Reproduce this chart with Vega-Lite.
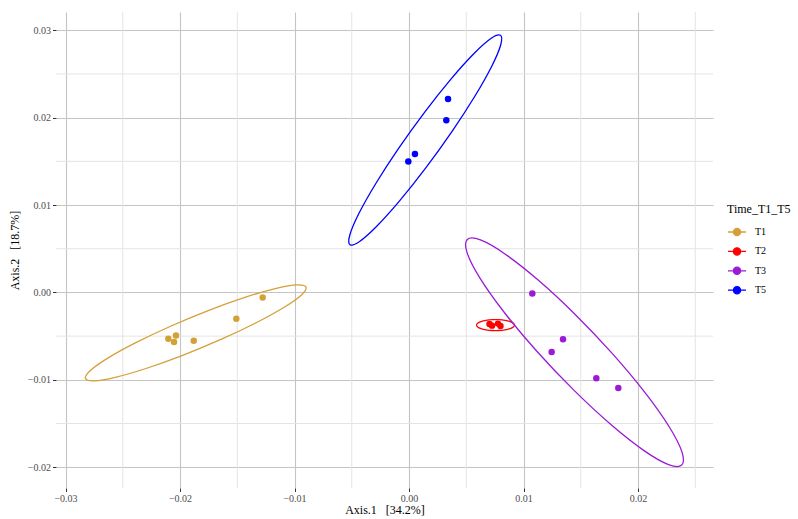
{
  "$schema": "https://vega.github.io/schema/vega-lite/v6.json",
  "width": 657,
  "height": 476,
  "autosize": "none",
  "padding": {"left": 56, "top": 12, "right": 85, "bottom": 31},
  "background": "white",
  "config": {
    "view": {"stroke": null},
    "font": "Liberation Serif",
    "axis": {
      "labelFont": "Liberation Serif",
      "titleFont": "Liberation Serif",
      "labelFontSize": 10,
      "labelColor": "#4d4d4d",
      "titleFontSize": 12,
      "titleFontWeight": "normal",
      "titleColor": "#000000",
      "domain": false,
      "tickColor": "#333333",
      "tickSize": 3.5,
      "tickWidth": 1,
      "gridColor": "#c4c4c4",
      "gridWidth": 1.1,
      "labelPadding": 2
    },
    "legend": {
      "labelFont": "Liberation Serif",
      "titleFont": "Liberation Serif"
    }
  },
  "datasets": {
    "pts": [
      {"group": "T1", "x": -0.01278, "y": -0.00057},
      {"group": "T1", "x": -0.01508, "y": -0.00302},
      {"group": "T1", "x": -0.01880, "y": -0.00553},
      {"group": "T1", "x": -0.02035, "y": -0.00492},
      {"group": "T1", "x": -0.02102, "y": -0.00530},
      {"group": "T1", "x": -0.02052, "y": -0.00568},
      {"group": "T2", "x": 0.00703, "y": -0.00362},
      {"group": "T2", "x": 0.00725, "y": -0.00380},
      {"group": "T2", "x": 0.00777, "y": -0.00357},
      {"group": "T2", "x": 0.00799, "y": -0.00385},
      {"group": "T3", "x": 0.01077, "y": -0.00011},
      {"group": "T3", "x": 0.01345, "y": -0.00537},
      {"group": "T3", "x": 0.01246, "y": -0.00683},
      {"group": "T3", "x": 0.01636, "y": -0.00983},
      {"group": "T3", "x": 0.01828, "y": -0.01094},
      {"group": "T5", "x": 0.00341, "y": 0.02214},
      {"group": "T5", "x": 0.00326, "y": 0.01970},
      {"group": "T5", "x": 0.00052, "y": 0.01585},
      {"group": "T5", "x": -0.00006, "y": 0.01498}
    ],
    "ell": [
      {"group": "T1", "i": 0, "x": -0.008995, "y": 0.000606},
      {"group": "T1", "i": 1, "x": -0.009393, "y": -0.000287},
      {"group": "T1", "i": 2, "x": -0.010904, "y": -0.001704},
      {"group": "T1", "i": 3, "x": -0.013346, "y": -0.003473},
      {"group": "T1", "i": 4, "x": -0.016425, "y": -0.005382},
      {"group": "T1", "i": 5, "x": -0.019768, "y": -0.007198},
      {"group": "T1", "i": 6, "x": -0.022975, "y": -0.008705},
      {"group": "T1", "i": 7, "x": -0.025656, "y": -0.009720},
      {"group": "T1", "i": 8, "x": -0.027489, "y": -0.010121},
      {"group": "T1", "i": 9, "x": -0.028253, "y": -0.009858},
      {"group": "T1", "i": 10, "x": -0.027855, "y": -0.008965},
      {"group": "T1", "i": 11, "x": -0.026344, "y": -0.007548},
      {"group": "T1", "i": 12, "x": -0.023902, "y": -0.005779},
      {"group": "T1", "i": 13, "x": -0.020823, "y": -0.003870},
      {"group": "T1", "i": 14, "x": -0.017480, "y": -0.002054},
      {"group": "T1", "i": 15, "x": -0.014273, "y": -0.000547},
      {"group": "T1", "i": 16, "x": -0.011592, "y": 0.000468},
      {"group": "T1", "i": 17, "x": -0.009759, "y": 0.000869},
      {"group": "T2", "i": 0, "x": 0.009214, "y": -0.003739},
      {"group": "T2", "i": 1, "x": 0.009114, "y": -0.003524},
      {"group": "T2", "i": 2, "x": 0.008826, "y": -0.003335},
      {"group": "T2", "i": 3, "x": 0.008385, "y": -0.003194},
      {"group": "T2", "i": 4, "x": 0.007843, "y": -0.003120},
      {"group": "T2", "i": 5, "x": 0.007267, "y": -0.003120},
      {"group": "T2", "i": 6, "x": 0.006725, "y": -0.003194},
      {"group": "T2", "i": 7, "x": 0.006284, "y": -0.003335},
      {"group": "T2", "i": 8, "x": 0.005996, "y": -0.003524},
      {"group": "T2", "i": 9, "x": 0.005896, "y": -0.003739},
      {"group": "T2", "i": 10, "x": 0.005996, "y": -0.003954},
      {"group": "T2", "i": 11, "x": 0.006284, "y": -0.004143},
      {"group": "T2", "i": 12, "x": 0.006725, "y": -0.004284},
      {"group": "T2", "i": 13, "x": 0.007267, "y": -0.004358},
      {"group": "T2", "i": 14, "x": 0.007843, "y": -0.004358},
      {"group": "T2", "i": 15, "x": 0.008385, "y": -0.004284},
      {"group": "T2", "i": 16, "x": 0.008826, "y": -0.004143},
      {"group": "T2", "i": 17, "x": 0.009114, "y": -0.003954},
      {"group": "T3", "i": 0, "x": 0.023816, "y": -0.019755},
      {"group": "T3", "i": 1, "x": 0.022666, "y": -0.019704},
      {"group": "T3", "i": 2, "x": 0.020526, "y": -0.018102},
      {"group": "T3", "i": 3, "x": 0.017655, "y": -0.015144},
      {"group": "T3", "i": 4, "x": 0.014396, "y": -0.011184},
      {"group": "T3", "i": 5, "x": 0.011145, "y": -0.006704},
      {"group": "T3", "i": 6, "x": 0.008293, "y": -0.002239},
      {"group": "T3", "i": 7, "x": 0.006184, "y": 0.001668},
      {"group": "T3", "i": 8, "x": 0.005072, "y": 0.004550},
      {"group": "T3", "i": 9, "x": 0.005092, "y": 0.006055},
      {"group": "T3", "i": 10, "x": 0.006242, "y": 0.006004},
      {"group": "T3", "i": 11, "x": 0.008382, "y": 0.004402},
      {"group": "T3", "i": 12, "x": 0.011254, "y": 0.001444},
      {"group": "T3", "i": 13, "x": 0.014512, "y": -0.002516},
      {"group": "T3", "i": 14, "x": 0.017763, "y": -0.006996},
      {"group": "T3", "i": 15, "x": 0.020616, "y": -0.011461},
      {"group": "T3", "i": 16, "x": 0.022724, "y": -0.015368},
      {"group": "T3", "i": 17, "x": 0.023836, "y": -0.018250},
      {"group": "T5", "i": 0, "x": 0.007991, "y": 0.029422},
      {"group": "T5", "i": 1, "x": 0.008007, "y": 0.028312},
      {"group": "T5", "i": 2, "x": 0.007228, "y": 0.025890},
      {"group": "T5", "i": 3, "x": 0.005749, "y": 0.022451},
      {"group": "T5", "i": 4, "x": 0.003747, "y": 0.018406},
      {"group": "T5", "i": 5, "x": 0.001465, "y": 0.014248},
      {"group": "T5", "i": 6, "x": -0.000823, "y": 0.010473},
      {"group": "T5", "i": 7, "x": -0.002840, "y": 0.007540},
      {"group": "T5", "i": 8, "x": -0.004345, "y": 0.005800},
      {"group": "T5", "i": 9, "x": -0.005153, "y": 0.005466},
      {"group": "T5", "i": 10, "x": -0.005169, "y": 0.006576},
      {"group": "T5", "i": 11, "x": -0.004390, "y": 0.008998},
      {"group": "T5", "i": 12, "x": -0.002911, "y": 0.012437},
      {"group": "T5", "i": 13, "x": -0.000909, "y": 0.016482},
      {"group": "T5", "i": 14, "x": 0.001373, "y": 0.020640},
      {"group": "T5", "i": 15, "x": 0.003661, "y": 0.024415},
      {"group": "T5", "i": 16, "x": 0.005678, "y": 0.027348},
      {"group": "T5", "i": 17, "x": 0.007183, "y": 0.029088}
    ]
  },
  "layer": [
    {
      "data": {"values": [{"v": -0.025}, {"v": -0.015}, {"v": -0.005}, {"v": 0.005}, {"v": 0.015}, {"v": 0.025}]},
      "mark": {"type": "rule", "color": "#e4e4e4", "strokeWidth": 1},
      "encoding": {
        "x": {"field": "v", "type": "quantitative", "scale": {"domain": [-0.03083, 0.02655], "nice": false, "zero": false},
              "axis": {"values": [-0.03, -0.02, -0.01, 0, 0.01, 0.02], "format": ".2f", "title": "Axis.1 \u00a0 [34.2%]", "titlePadding": 1}}
      }
    },
    {
      "data": {"values": [{"v": -0.015}, {"v": -0.005}, {"v": 0.005}, {"v": 0.015}, {"v": 0.025}]},
      "mark": {"type": "rule", "color": "#e4e4e4", "strokeWidth": 1},
      "encoding": {
        "y": {"field": "v", "type": "quantitative", "scale": {"domain": [-0.02238, 0.03209], "nice": false, "zero": false},
              "axis": {"values": [-0.02, -0.01, 0, 0.01, 0.02, 0.03], "format": ".2f", "title": "Axis.2 \u00a0 [18.7%]", "titlePadding": 6}}
      }
    },
    {
      "data": {"name": "ell"},
      "mark": {"type": "line", "interpolate": "cardinal-closed", "strokeWidth": 1.3},
      "encoding": {
        "x": {"field": "x", "type": "quantitative"},
        "y": {"field": "y", "type": "quantitative"},
        "order": {"field": "i", "type": "quantitative"},
        "color": {"field": "group", "type": "nominal",
          "scale": {"domain": ["T1", "T2", "T3", "T5"], "range": ["#D4A038", "#FF0000", "#9A1AD6", "#0000FF"]}}
      }
    },
    {
      "data": {"name": "pts"},
      "mark": {"type": "point", "filled": true, "size": 42, "opacity": 1},
      "encoding": {
        "x": {"field": "x", "type": "quantitative"},
        "y": {"field": "y", "type": "quantitative"},
        "color": {"field": "group", "type": "nominal",
          "scale": {"domain": ["T1", "T2", "T3", "T5"], "range": ["#D4A038", "#FF0000", "#9A1AD6", "#0000FF"]},
          "legend": {
            "title": "Time_T1_T5",
            "orient": "none",
            "legendX": 671,
            "legendY": 192,
            "padding": 0,
            "titleFontSize": 12,
            "titleFontWeight": "normal",
            "titleColor": "#000000",
            "titlePadding": 6,
            "labelFontSize": 10,
            "labelColor": "#000000",
            "labelOffset": 8,
            "rowPadding": 2.4,
            "symbolType": "M-1,0L1,0M0.4,0A0.4,0.4,0,1,1,-0.4,0A0.4,0.4,0,1,1,0.4,0Z",
            "symbolSize": 324,
            "symbolStrokeWidth": 1.3,
            "encode": {
              "symbols": {"update": {
                "fill": {"scale": "color", "field": "value"},
                "stroke": {"scale": "color", "field": "value"},
                "strokeWidth": {"value": 1.3},
                "opacity": {"value": 1}
              }}
            }
          }}
      }
    }
  ]
}
